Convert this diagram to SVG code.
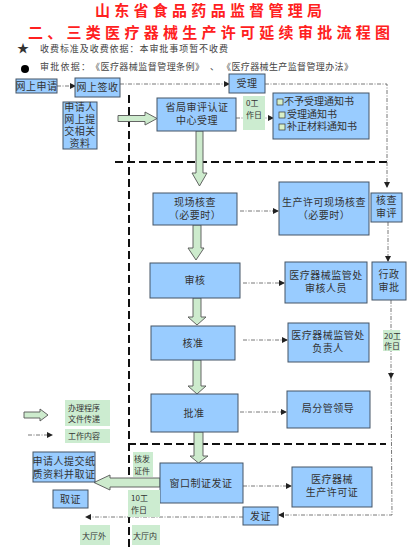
<svg xmlns="http://www.w3.org/2000/svg" width="412" height="550" viewBox="0 0 412 550">
<defs>
<style>
text{font-family:"Noto Sans CJK SC","Liberation Sans",sans-serif;fill:#333}
.t1{fill:#ff2020;font-size:15px;font-weight:bold}
.note{font-size:9px;fill:#444}
.box{fill:#99ccff;stroke:#445566;stroke-width:1}
.lbl{fill:#ccecd0;stroke:none}
.bt{font-size:10px;text-anchor:middle;letter-spacing:0.5px}
.st{font-size:8px;fill:#333}
.dd{fill:none;stroke:#555;stroke-width:0.8;stroke-dasharray:4 1.5 1 1.5}
.bd{fill:none;stroke:#111;stroke-width:2;stroke-dasharray:8 4}
.ga{fill:#cdebcd;stroke:#555;stroke-width:0.9}
.cb{fill:#d8f0c8;stroke:#333;stroke-width:0.7}
</style>
<marker id="ar" markerWidth="6" markerHeight="6" refX="5" refY="3" orient="auto" markerUnits="userSpaceOnUse">
<path d="M0,0 L6,3 L0,6 Z" fill="#222"/>
</marker>
</defs>
<rect width="412" height="550" fill="#fff"/>

<g id="title">
<text class="t1" x="95" y="16" textLength="227" lengthAdjust="spacing">山东省食品药品监督管理局</text>
<text class="t1" x="28" y="38" textLength="362" lengthAdjust="spacing">二、三类医疗器械生产许可延续审批流程图</text>
<text x="23" y="53" font-size="12" fill="#000" text-anchor="middle">★</text>
<text class="note" x="40" y="52" textLength="188" lengthAdjust="spacing">收费标准及收费依据：本审批事项暂不收费</text>
<circle cx="25" cy="69" r="4" fill="#000"/>
<text class="note" x="40" y="70" textLength="50" lengthAdjust="spacing">审批依据：</text>
<text class="note" x="91" y="70" textLength="113" lengthAdjust="spacing">《医疗器械监督管理条例》</text>
<text class="note" x="210" y="70">、</text>
<text class="note" x="222" y="70" textLength="131" lengthAdjust="spacing">《医疗器械生产监督管理办法》</text>
</g>

<g id="dividers">
<line class="bd" x1="129" y1="95" x2="129" y2="550"/>
<line class="bd" x1="115" y1="162" x2="387" y2="162"/>
<line class="bd" x1="128" y1="444" x2="386" y2="444"/>
</g>

<g id="connectors">
<line class="dd" x1="57" y1="86" x2="75" y2="86" marker-end="url(#ar)"/>
<line class="dd" x1="120" y1="84" x2="229" y2="84" marker-end="url(#ar)"/>
<polyline class="dd" points="265,84 387,84 387,187" marker-end="url(#ar)"/>
<line class="dd" x1="236" y1="118" x2="273" y2="118" marker-end="url(#ar)"/>
<line class="dd" x1="240" y1="211" x2="278" y2="211" marker-end="url(#ar)"/>
<line class="dd" x1="388" y1="222" x2="388" y2="261" marker-end="url(#ar)"/>
<line class="dd" x1="243" y1="283" x2="284" y2="283" marker-end="url(#ar)"/>
<line class="dd" x1="243" y1="340" x2="287" y2="340" marker-end="url(#ar)"/>
<line class="dd" x1="240" y1="412" x2="286" y2="412" marker-end="url(#ar)"/>
<line class="dd" x1="243" y1="486" x2="291" y2="486" marker-end="url(#ar)"/>
<line class="dd" x1="391" y1="300" x2="391" y2="378" marker-end="url(#ar)"/>
<polyline class="dd" points="391,378 392,515 279,515" marker-end="url(#ar)"/>
<line class="dd" x1="243" y1="517" x2="86" y2="517" marker-end="url(#ar)"/>
<path class="ga" d="M118,115.5 H145 V112 L157,118.5 L145,125 V121.5 H118 Z"/>
<path class="ga" d="M196,131 V173 H192 L199.5,186 L207,173 H203 V131 Z"/>
<path class="ga" d="M193,225 V248 H188 L196,260 L204,248 H201 V225 Z"/>
<path class="ga" d="M193,298 V317 H188 L197,325 L206,317 H201 V298 Z"/>
<path class="ga" d="M193,360 V386 H188 L197,394 L206,386 H201 V360 Z"/>
<path class="ga" d="M194,432 V456 H190 L198.5,463 L208,456 H203 V432 Z"/>
<path class="ga" d="M160,478 H110 V475 L94,482.5 L110,490 V487 H160 Z"/>
</g>

<g id="legend">
<path class="ga" d="M24,412 H40 V409 L48,415 L40,421 V418 H24 Z"/>
<rect class="lbl" x="65" y="400" width="45" height="26"/>
<text class="st" x="68" y="411">办理程序</text>
<text class="st" x="68" y="422">文件传递</text>
<line class="dd" x1="28" y1="435" x2="52" y2="435" marker-end="url(#ar)"/>
<rect class="lbl" x="65" y="429" width="45" height="14"/>
<text class="st" x="68" y="439">工作内容</text>
</g>

<g id="n1"><rect class="box" x="16" y="79" width="41" height="14"/><text class="bt" x="36.5" y="89.5" font-size="9" letter-spacing="0">网上申请</text></g>
<g id="n2"><rect class="box" x="75" y="78" width="45" height="19"/><text class="bt" x="97.5" y="91">网上签收</text></g>
<g id="n3"><rect class="box" x="63" y="102" width="34" height="47"/>
<text class="bt" x="80" y="111" font-size="7.5" letter-spacing="0.6">申请人</text><text class="bt" x="80" y="123" font-size="7.5" letter-spacing="0.6">网上提</text><text class="bt" x="80" y="135" font-size="7.5" letter-spacing="0.6">交相关</text><text class="bt" x="80" y="147" font-size="7.5" letter-spacing="0.6">资料</text></g>
<g id="n4"><rect class="box" x="157" y="98" width="79" height="33"/><text class="bt" x="197" y="111">省局审评认证</text><text class="bt" x="197" y="124">中心受理</text></g>
<g id="n5"><rect class="box" x="229" y="74" width="36" height="19"/><text class="bt" x="247" y="87">受理</text></g>
<g id="l0"><rect class="lbl" x="243" y="96" width="22" height="34"/><text class="st" x="246" y="106">0工</text><text class="st" x="246" y="117.5">作日</text></g>
<g id="n6"><rect class="box" x="273" y="93" width="96" height="46"/>
<rect class="cb" x="277" y="99" width="6" height="6" fill="#fff"/><text x="284" y="105" font-size="10">不予受理通知书</text>
<rect class="cb" x="279" y="112" width="6" height="6"/><text x="287" y="118" font-size="10">受理通知书</text>
<rect class="cb" x="279" y="124" width="6" height="6"/><text x="287" y="130" font-size="10">补正材料通知书</text></g>
<g id="n7"><rect class="box" x="153" y="193" width="84" height="32"/><text class="bt" x="195" y="205.5">现场核查</text><text class="bt" x="195" y="219">（必要时）</text></g>
<g id="n8"><rect class="box" x="279" y="182" width="90" height="53"/><text class="bt" x="324" y="205.5">生产许可现场核查</text><text class="bt" x="324" y="219">（必要时）</text></g>
<g id="n9"><rect class="box" x="371" y="193" width="31" height="29"/><text class="bt" x="386.5" y="204">核查</text><text class="bt" x="386.5" y="217">审评</text></g>
<g id="n10"><rect class="box" x="150" y="263" width="90" height="35"/><text class="bt" x="195" y="284" letter-spacing="2">审核</text></g>
<g id="n11"><rect class="box" x="285" y="262" width="82" height="41"/><text class="bt" x="326" y="278.5">医疗器械监管处</text><text class="bt" x="326" y="292">审核人员</text></g>
<g id="n12"><rect class="box" x="372" y="262" width="34" height="38"/><text class="bt" x="389" y="277.5">行政</text><text class="bt" x="389" y="291">审批</text></g>
<g id="n13"><rect class="box" x="151" y="326" width="84" height="34"/><text class="bt" x="193" y="347" letter-spacing="2">核准</text></g>
<g id="n14"><rect class="box" x="288" y="323" width="81" height="39"/><text class="bt" x="328" y="338.5">医疗器械监管处</text><text class="bt" x="328" y="352">负责人</text></g>
<g id="l20"><rect class="lbl" x="383" y="330" width="17" height="21"/><text class="st" x="384" y="339" font-size="7">20工</text><text class="st" x="384" y="349" font-size="7">作日</text></g>
<g id="n15"><rect class="box" x="151" y="394" width="87" height="38"/><text class="bt" x="194" y="417" letter-spacing="2">批准</text></g>
<g id="n16"><rect class="box" x="287" y="391" width="83" height="37"/><text class="bt" x="328" y="412">局分管领导</text></g>
<g id="n17"><rect class="box" x="160" y="463" width="83" height="40"/><text class="bt" x="201" y="487">窗口制证发证</text></g>
<g id="n18"><rect class="box" x="292" y="467" width="80" height="40"/><text class="bt" x="332" y="482.5">医疗器械</text><text class="bt" x="332" y="496">生产许可证</text></g>
<g id="n19"><rect class="box" x="243" y="507" width="35" height="18"/><text class="bt" x="260.5" y="520">发证</text></g>
<g id="n20"><rect class="box" x="33" y="452" width="62" height="30"/><text class="bt" x="64" y="464.5" font-size="9" letter-spacing="0">申请人提交纸</text><text class="bt" x="64" y="477.5" font-size="9" letter-spacing="0">质资料并取证</text></g>
<g id="n21"><rect class="box" x="53" y="490" width="35" height="18"/><text class="bt" x="70.5" y="503">取证</text></g>
<g id="l1"><rect class="lbl" x="133" y="452" width="20" height="25"/><text class="st" x="134" y="462">核发</text><text class="st" x="134" y="473.5">证件</text></g>
<g id="l2"><rect class="lbl" x="128" y="490" width="32" height="27"/><text class="st" x="131" y="501">10工</text><text class="st" x="131" y="512.5">作日</text></g>
<g id="l3"><rect class="lbl" x="80" y="525" width="30" height="20"/><text class="st" x="82" y="539">大厅外</text></g>
<g id="l4"><rect class="lbl" x="132" y="525" width="28" height="20"/><text class="st" x="133" y="539">大厅内</text></g>
</svg>
